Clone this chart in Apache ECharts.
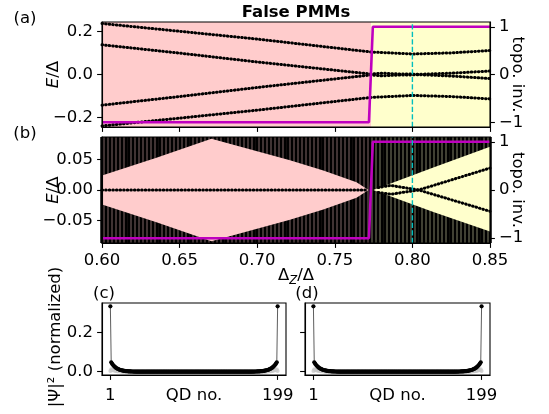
<!DOCTYPE html>
<html><head><meta charset="utf-8">
<script src="https://cdn.jsdelivr.net/npm/echarts@6/dist/echarts.min.js"></script>
<style>html,body{margin:0;padding:0;background:#fff}#c{width:549px;height:414px}</style>
</head><body><div id="c"></div>
<script>
// ---------------- data ----------------
const dzTicks = [0.6, 0.65, 0.7, 0.75, 0.8, 0.85];
const topoTicks = [-1, 0, 1];
const eTicksA = [-0.2, 0, 0.2];
const eTicksB = [-0.05, 0, 0.05];
const psiTicks = [0, 0.2];
const qdTicks = [1, 199];

const phaseRegions = [[0.6, 0.7735, 0], [0.7735, 0.85, 1]];   // 0: trivial (pink), 1: topological (yellow)
const topoInv = [[0.6, -1], [0.772, -1], [0.7745, 1], [0.85, 1]];
const dzMarker = 0.8;
const bandStep = 0.0025;   // sampling of Delta_Z in panel (b)

// panel (a): low-energy levels
const levelA1 = [[0.6, 0.236], [0.65, 0.200], [0.70, 0.164], [0.7735, 0.104], [0.80, 0.095], [0.825, 0.100], [0.85, 0.111]];
const levelA2 = [[0.6, 0.1375], [0.65, 0.099], [0.70, 0.058], [0.7735, 0.002], [0.78, 0.006], [0.79, 0.003], [0.805, 0.001], [0.825, 0.006], [0.85, 0.016]];
const levelA3 = [[0.6, -0.142], [0.65, -0.102], [0.70, -0.060], [0.7735, -0.002], [0.78, -0.006], [0.79, -0.003], [0.805, -0.001], [0.825, -0.007], [0.85, -0.019]];
const levelA4 = [[0.6, -0.238], [0.65, -0.202], [0.70, -0.165], [0.7735, -0.106], [0.80, -0.097], [0.825, -0.102], [0.85, -0.113]];

// panel (b): gap edges of the quasi-continuum and in-gap states
const gapUpperTrivial = [[0.6, 0.0237], [0.6351, 0.053], [0.6705, 0.084], [0.7211, 0.049], [0.7426, 0.032], [0.764, 0.0127], [0.7717, 0]];
const gapLowerTrivial = [[0.6, -0.0237], [0.6351, -0.053], [0.6705, -0.084], [0.7211, -0.049], [0.7426, -0.032], [0.764, -0.0127], [0.7717, 0]];
const gapUpperTopo = [[0.7748, 0], [0.8135, 0.037], [0.85, 0.071]];
const gapLowerTopo = [[0.7748, 0], [0.8135, -0.036], [0.85, -0.068]];
const zeroModeB = [[0.6, 0], [0.7705, 0]];
const splitB1 = [[0.778, 0.004], [0.786, 0.0075], [0.804, 0.0], [0.85, -0.035]];
const splitB2 = [[0.778, -0.004], [0.786, -0.007], [0.804, 0.0], [0.85, 0.036]];

// panels (c),(d): |psi|^2 along the chain (sites near the ends; interior ~0)
const nSites = 199;
const psiLeftEnd = [0.333, 0.048, 0.041, 0.035, 0.030, 0.026, 0.022, 0.019, 0.016, 0.014, 0.012, 0.010, 0.0088, 0.0075, 0.0065, 0.0056, 0.0048, 0.0041, 0.0035, 0.003, 0.0026, 0.0022, 0.0019, 0.0016, 0.0014, 0.0012, 0.001, 0.0009, 0.0008, 0.0007];
const psiRightEnd = [0.0007, 0.0008, 0.0009, 0.001, 0.0012, 0.0014, 0.0016, 0.0019, 0.0022, 0.0026, 0.003, 0.0035, 0.0041, 0.0048, 0.0056, 0.0065, 0.0075, 0.0088, 0.010, 0.012, 0.014, 0.016, 0.019, 0.022, 0.026, 0.030, 0.035, 0.041, 0.048, 0.333];
const psiGrayLeftEnd = [0.004, 0.012, 0.008, 0.010, 0.006, 0.007, 0.004, 0.005, 0.003, 0.003, 0.002, 0.002, 0.0015, 0.001, 0.001];
const psiGrayRightEnd = [0.001, 0.001, 0.0015, 0.002, 0.002, 0.003, 0.003, 0.005, 0.004, 0.007, 0.006, 0.010, 0.008, 0.012, 0.004];

// ---------------- build ----------------
function sitesSeries(leftEnd, rightEnd) {
  const out = [];
  for (let n = 1; n <= nSites; n++) {
    let v = 0;
    if (n <= leftEnd.length) v = leftEnd[n - 1];
    else if (n > nSites - rightEnd.length) v = rightEnd[n - (nSites - rightEnd.length) - 1];
    out.push([n, v]);
  }
  return out;
}
const psiBlack = sitesSeries(psiLeftEnd, psiRightEnd);
const psiGray = sitesSeries(psiGrayLeftEnd, psiGrayRightEnd);

const FONT = 'DejaVu Sans';
const FS = 16.5;
const PINK = '#ffcccc', YELLOW = '#ffffcc', MAG = '#bf00bf', CYAN = '#00bfbf';
const minus = s => s.replace('-', '\u2212');

const chart = echarts.init(document.getElementById('c'), null, {renderer: 'canvas', width: 549, height: 414});

const grids = [
  {left: 102, top: 22, width: 388, height: 105},
  {left: 102, top: 137, width: 388, height: 106},
  {left: 102, top: 303, width: 184, height: 72},
  {left: 305, top: 303, width: 185, height: 72}
].map(g => Object.assign(g, {show: true, borderColor: '#000', borderWidth: 1.1, z: 10, backgroundColor: 'transparent'}));

function axisBase(gridIndex, min, max, ticks, fmt, extra, margin) {
  return Object.assign({
    type: 'value', gridIndex, min, max, z: 10, nameMoveOverlap: false,
    axisLine: {show: true, onZero: false, lineStyle: {color: '#000', width: 1.1}},
    axisTick: {show: true, customValues: ticks, length: 4.9, lineStyle: {color: '#000', width: 1.1}},
    axisLabel: fmt ? {show: true, customValues: ticks, formatter: fmt, color: '#000', fontFamily: FONT, fontSize: FS, margin: margin || 9} : {show: false},
    splitLine: {show: false}
  }, extra || {});
}

const qdName = {name: 'QD no.', nameLocation: 'middle', nameGap: 12, nameMoveOverlap: false,
  nameTextStyle: {fontFamily: FONT, fontSize: FS, color: '#000', verticalAlign: 'top'}};

const xAxes = [
  axisBase(0, 0.6, 0.85, dzTicks, null),
  axisBase(1, 0.6, 0.85, dzTicks, v => v.toFixed(2), {
    name: '{a|Δ}{s|Z}{a|/Δ}', nameLocation: 'middle', nameGap: 24,
    nameTextStyle: {fontFamily: FONT, color: '#000', rich: {
      a: {fontFamily: FONT, fontSize: FS, color: '#000', lineHeight: 20, verticalAlign: 'bottom', padding: [0, 0, 3, 0]},
      s: {fontFamily: FONT, fontSize: 11.5, fontStyle: 'italic', color: '#000', lineHeight: 20, verticalAlign: 'bottom'}
    }}
  }),
  // sampling grid of the quasi-continuum (b): one dense column of eigenvalues per sampled Delta_Z
  {type: 'value', gridIndex: 1, min: 0.6, max: 0.85, interval: bandStep, z: 1,
   axisLine: {show: false}, axisTick: {show: false}, axisLabel: {show: false},
   splitLine: {show: true, lineStyle: {color: '#000', width: 3.5}}},
  axisBase(2, -8.9, 208.9, qdTicks, v => String(v), qdName, 12),
  axisBase(3, -8.9, 208.9, qdTicks, v => String(v), qdName, 12)
];

const eName = {
  name: '{i|E}{a|/Δ}', nameLocation: 'middle', nameGap: 40, nameRotate: 90,
  nameTextStyle: {rich: {
    i: {fontFamily: FONT, fontSize: FS, fontStyle: 'italic', color: '#000'},
    a: {fontFamily: FONT, fontSize: FS, color: '#000'}
  }}
};
const topoName = {
  name: 'topo. inv.', nameLocation: 'middle', nameGap: 19, nameRotate: -90,
  nameTextStyle: {fontFamily: FONT, fontSize: FS, color: '#000'}
};

const yAxes = [
  axisBase(0, -0.243, 0.243, eTicksA, v => minus(v.toFixed(1)), eName),
  axisBase(0, -1.1, 1.1, topoTicks, v => minus(String(v)), Object.assign({position: 'right'}, topoName)),
  axisBase(1, -0.087, 0.087, eTicksB, v => minus(v.toFixed(2)), eName),
  axisBase(1, -1.1, 1.1, topoTicks, v => minus(String(v)), Object.assign({position: 'right'}, topoName)),
  axisBase(2, -0.0167, 0.35, psiTicks, v => v.toFixed(1)),
  axisBase(3, -0.0167, 0.35, psiTicks, null)
];

function phaseBg(xi, yi) {
  return {
    type: 'custom', xAxisIndex: xi, yAxisIndex: yi, z: 0, silent: true, clip: true,
    data: phaseRegions,
    renderItem(params, api) {
      const a = api.coord([api.value(0), 0]);
      const b = api.coord([api.value(1), 0]);
      const cs = params.coordSys;
      return {type: 'rect', shape: {x: a[0], y: cs.y, width: b[0] - a[0], height: cs.height},
              style: {fill: api.value(2) === 0 ? PINK : YELLOW}};
    }
  };
}
function dotted(data, xi, yi, z) {
  return {type: 'line', xAxisIndex: xi, yAxisIndex: yi, data, symbol: 'none', showSymbol: false, silent: true, z: z || 3,
          lineStyle: {color: '#000', width: 3, type: [0.6, 3.0], cap: 'round'}};
}
function gapFill(data, color) {
  return {type: 'line', xAxisIndex: 1, yAxisIndex: 2, data, symbol: 'none', silent: true, z: 2,
          lineStyle: {width: 0, opacity: 0}, areaStyle: {color, opacity: 1, origin: 'auto'}};
}
function topoLine(xi, yi) {
  return {type: 'line', xAxisIndex: xi, yAxisIndex: yi, data: topoInv, symbol: 'none', silent: true, z: 4,
          lineStyle: {color: MAG, width: 2.6}};
}
function cyanLine(xi, yi) {
  return {type: 'line', xAxisIndex: xi, yAxisIndex: yi, data: [[dzMarker, -1.1], [dzMarker, 1.1]], symbol: 'none', silent: true, z: 5,
          lineStyle: {color: CYAN, width: 1.4, type: [5.2, 2.3]}};
}
function psiSeries(xi, yi) {
  return [
    {type: 'scatter', xAxisIndex: xi, yAxisIndex: yi, data: psiGray, symbol: 'circle', symbolSize: 4, silent: true, z: 2,
     itemStyle: {color: '#c8c8c8'}},
    {type: 'line', xAxisIndex: xi, yAxisIndex: yi, data: psiBlack, symbol: 'circle', symbolSize: 4.2, showSymbol: true, showAllSymbol: true, silent: true, z: 3,
     itemStyle: {color: '#000'}, lineStyle: {color: '#333', width: 0.8}}
  ];
}

const series = [
  phaseBg(0, 0),
  dotted(levelA1, 0, 0), dotted(levelA2, 0, 0), dotted(levelA3, 0, 0), dotted(levelA4, 0, 0),
  topoLine(0, 1), cyanLine(0, 1),
  phaseBg(1, 2),
  gapFill(gapUpperTrivial, PINK), gapFill(gapLowerTrivial, PINK),
  gapFill(gapUpperTopo, YELLOW), gapFill(gapLowerTopo, YELLOW),
  dotted(zeroModeB, 1, 2), dotted(splitB1, 1, 2), dotted(splitB2, 1, 2),
  topoLine(1, 3), cyanLine(1, 3),
  ...psiSeries(3, 4), ...psiSeries(4, 5)
];

const txt = (text, x, y, extra) => ({type: 'text', x, y, z: 20, silent: true,
  style: Object.assign({text, fill: '#000', font: FS + 'px "' + FONT + '"', fontFamily: FONT, fontSize: FS,
    align: 'center', verticalAlign: 'middle', textAlign: 'center', textVerticalAlign: 'middle'}, extra || {})});

chart.setOption({
  animation: false,
  backgroundColor: '#fff',
  grid: grids,
  xAxis: xAxes,
  yAxis: yAxes,
  series,
  graphic: [
    txt('False PMMs', 296, 13, {fontWeight: 'bold', font: 'bold ' + FS + 'px "' + FONT + '"'}),
    txt('(a)', 25, 19),
    txt('(b)', 25, 134),
    txt('(c)', 104, 294),
    txt('(d)', 307, 294),
    Object.assign(txt('|Ψ|² (normalized)', 56, 337), {rotation: Math.PI / 2})
  ]
});
</script></body></html>
